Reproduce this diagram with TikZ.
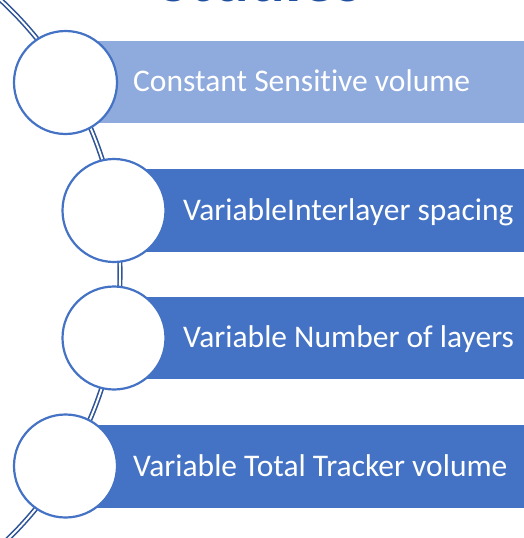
\documentclass[tikz,border=0pt]{standalone}
\usepackage{fontspec}
\setmainfont{Carlito}[Ligatures={NoCommon}]
\definecolor{ringblue}{HTML}{4472C4}
\definecolor{barlight}{HTML}{8FAADC}
\definecolor{bardark}{HTML}{4472C4}
\definecolor{spine}{HTML}{2F5597}
\definecolor{titleblue}{HTML}{1F4E9E}
\tikzset{
  bar/.style={anchor=west, inner sep=0pt, minimum height=#1, minimum width=460},
  ring/.style={circle, draw=ringblue, line width=2.2, fill=white, inner sep=0pt, minimum size=103},
  label/.style={anchor=base west, inner sep=0pt, text=white, font=\fontsize{31.5}{38}\selectfont},
  spineline/.style={draw=spine, line width=1.6, double=white, double distance=1.9}
}
\begin{document}
\begin{tikzpicture}[x=1pt, y=-1pt]
  \clip (0,0) rectangle (524,538);
  \useasboundingbox (0,0) rectangle (524,538);

  % heading, only its lower edge falls inside the page
  \node[anchor=base, inner sep=0pt, text=titleblue,
        font=\fontsize{67}{80}\selectfont\bfseries] (title) at (260,1.8) {Studies};

  % curved spine behind the rings
  \coordinate (hub) at (-252,273);
  \draw[spineline] (hub) ++(-50:372) arc[start angle=-50, end angle=50, radius=372];

  % bars
  \node[bar=82, fill=barlight] (b1) at (65,82) {};
  \node[bar=83, fill=bardark] (b2) at (114,210.5) {};
  \node[bar=82, fill=bardark] (b3) at (114,338) {};
  \node[bar=83, fill=bardark] (b4) at (65,466.5) {};

  % rings
  \node[ring] (r1) at (65.5,82.5) {};
  \node[ring] (r2) at (114,210.5) {};
  \node[ring] (r3) at (114,338) {};
  \node[ring] (r4) at (65.5,466) {};

  % labels
  \node[label] (t1) at (133,91.5) {Constant Sensitive volume};
  \node[label] (t2) at (183,220) {VariableInterlayer spacing};
  \node[label] (t3) at (183,347.5) {Variable Number of layers};
  \node[label] (t4) at (133,476) {Variable Total Tracker volume};
\end{tikzpicture}
\end{document}
